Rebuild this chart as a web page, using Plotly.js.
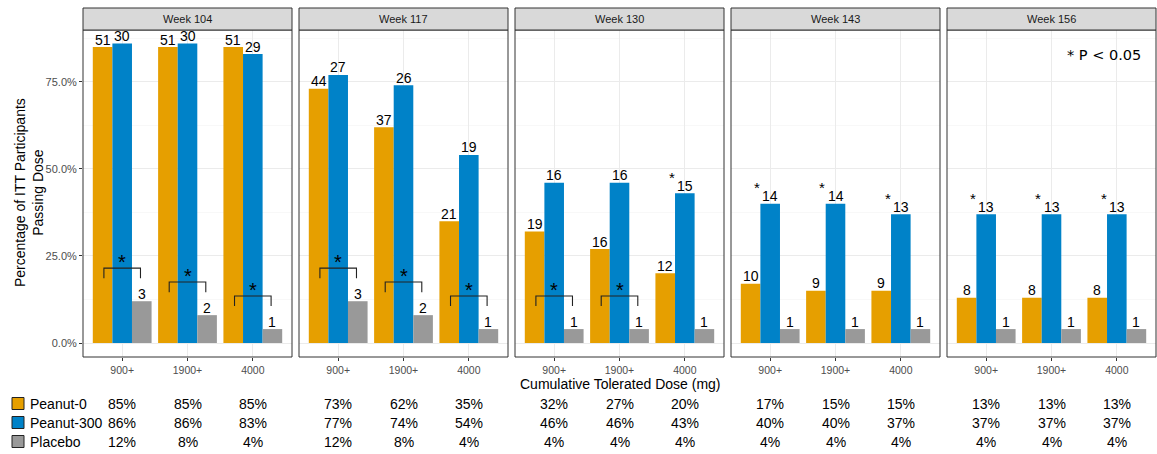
<!DOCTYPE html>
<html>
<head>
<meta charset="utf-8">
<script src="https://cdn.plot.ly/plotly-3.0.1.min.js"></script>
<style>
  html, body { margin: 0; padding: 0; background: #fff; }
  #chart { width: 1157px; height: 454px; }
</style>
</head>
<body>
<div id="chart"></div>
<script>
// ---- data ----
const weeks = ['Week 104', 'Week 117', 'Week 130', 'Week 143', 'Week 156'];
const doses = ['900+', '1900+', '4000'];
const groupNames = ['Peanut-0', 'Peanut-300', 'Placebo'];
const yTickVals = [0, 25, 50, 75];
const yTickText = ['0.0%', '25.0%', '50.0%', '75.0%'];

// percentage passing each cumulative dose, one row per week
const peanut0Pct   = [[85, 85, 85], [73, 62, 35], [32, 27, 20], [17, 15, 15], [13, 13, 13]];
const peanut300Pct = [[86, 86, 83], [77, 74, 54], [46, 46, 43], [40, 40, 37], [37, 37, 37]];
const placeboPct   = [[12, 8, 4],   [12, 8, 4],   [4, 4, 4],    [4, 4, 4],    [4, 4, 4]];

// number of participants passing
const peanut0N   = [[51, 51, 51], [44, 37, 21], [19, 16, 12], [10, 9, 9],  [8, 8, 8]];
const peanut300N = [[30, 30, 29], [27, 26, 19], [16, 16, 15], [14, 14, 13], [13, 13, 13]];
const placeboN   = [[3, 2, 1],    [3, 2, 1],    [1, 1, 1],    [1, 1, 1],    [1, 1, 1]];

// significance flags: bracket = active arms vs placebo, star = Peanut-300 vs Peanut-0
const sigVsPlacebo  = [[1, 1, 1], [1, 1, 1], [1, 1, 0], [0, 0, 0], [0, 0, 0]];
const sigPeanut300  = [[0, 0, 0], [0, 0, 0], [0, 0, 1], [1, 1, 1], [1, 1, 1]];

// ---- styling / geometry ----
const groupColors = ['#E69F00', '#0082C8', '#999999'];
const pctByGroup = [peanut0Pct, peanut300Pct, placeboPct];
const countByGroup = [peanut0N, peanut300N, placeboN];

const W = 1157, H = 454;
const M = { l: 83, r: 1, t: 30, b: 97 };
const plotW = W - M.l - M.r, plotH = H - M.t - M.b;
const px = v => (v - M.l) / plotW;        // pixel x -> paper
const py = v => (H - M.b - v) / plotH;    // pixel y -> paper
const PANEL_STEP = 216, PANEL_W = 209;
const axId = i => (i === 0 ? '' : String(i + 1));
const FONT = 'Liberation Sans, Arial, sans-serif';
const offsets = [-0.45, -0.15, 0.15];
const centers = [-0.3, 0, 0.3];

const traces = [];
const layout = {
  width: W, height: H,
  margin: { l: M.l, r: M.r, t: M.t, b: M.b, pad: 0 },
  paper_bgcolor: '#fff', plot_bgcolor: '#fff',
  barmode: 'overlay',
  showlegend: false,
  font: { family: FONT, color: '#000' },
  yaxis: {
    range: [-4.02, 89.9],
    tickmode: 'array', tickvals: yTickVals, ticktext: yTickText,
    showgrid: true, gridcolor: '#ebebeb', gridwidth: 1,
    minor: { tickvals: [12.5, 37.5, 62.5, 87.5], showgrid: true, gridcolor: '#f4f4f4', gridwidth: 0.6, ticks: '' },
    zeroline: false, showline: false,
    ticks: 'outside', ticklen: 3, tickcolor: '#333',
    tickfont: { family: FONT, size: 11, color: '#4d4d4d' },
    anchor: 'x', fixedrange: true
  },
  shapes: [],
  annotations: []
};

weeks.forEach((wk, i) => {
  const id = axId(i);
  const x0 = i * PANEL_STEP;
  const xr = 'x' + id;
  const xd = 'x' + id + ' domain';

  layout['xaxis' + id] = {
    domain: [x0 / plotW, Math.min(1, (x0 + PANEL_W) / plotW)],
    range: [-0.6, 2.6],
    tickmode: 'array', tickvals: [0, 1, 2], ticktext: doses,
    showgrid: true, gridcolor: '#ebebeb', gridwidth: 1,
    zeroline: false, showline: false,
    ticks: 'outside', ticklen: 3, tickcolor: '#333',
    tickfont: { family: FONT, size: 10.5, color: '#4d4d4d' },
    anchor: 'y', fixedrange: true
  };

  groupNames.forEach((g, k) => {
    traces.push({
      type: 'bar',
      name: g,
      x: [0, 1, 2],
      y: pctByGroup[k][i],
      width: 0.3,
      offset: offsets[k],
      xaxis: xr,
      yaxis: 'y',
      marker: { color: groupColors[k], line: { width: 0 } },
      showlegend: false,
      hoverinfo: 'skip'
    });
    // count labels sitting on top of each bar
    doses.forEach((d, j) => {
      layout.annotations.push({ xref: xr, yref: 'y', x: j + centers[k], y: pctByGroup[k][i][j],
        text: String(countByGroup[k][i][j]), showarrow: false, xanchor: 'center', yanchor: 'bottom', yshift: -2.5,
        font: { family: FONT, size: 14, color: '#000' } });
    });
  });

  // panel frame
  layout.shapes.push({ type: 'rect', xref: xd, yref: 'y domain', x0: 0, x1: 1, y0: 0, y1: 1,
    line: { color: '#333', width: 1 }, fillcolor: 'rgba(0,0,0,0)', layer: 'above' });
  // strip
  layout.shapes.push({ type: 'rect', xref: xd, yref: 'paper', x0: 0, x1: 1, y0: 1, y1: py(8),
    line: { color: '#333', width: 1 }, fillcolor: '#d9d9d9', layer: 'above' });
  layout.annotations.push({ xref: xd, yref: 'paper', x: 0.5, y: py(19), text: wk, showarrow: false,
    xanchor: 'center', yanchor: 'middle', font: { family: FONT, size: 11, color: '#1a1a1a' } });

  doses.forEach((d, j) => {
    // bracket: active arms vs placebo
    if (sigVsPlacebo[i][j]) {
      const top = placeboPct[i][j] + 9.5;
      const leg = top - 2.9;
      layout.shapes.push({ type: 'path', xref: xr, yref: 'y',
        path: `M ${j - 0.28},${leg} L ${j - 0.28},${top} L ${j + 0.28},${top} L ${j + 0.28},${leg}`,
        line: { color: '#222', width: 1.1 } });
      layout.annotations.push({ xref: xr, yref: 'y', x: j, y: top, yshift: 6.5, text: '*', showarrow: false,
        xanchor: 'center', yanchor: 'middle', font: { family: FONT, size: 20, color: '#000' } });
    }
    // star: Peanut-300 vs Peanut-0
    if (sigPeanut300[i][j]) {
      layout.annotations.push({ xref: xr, yref: 'y', x: j - 0.2, y: peanut300Pct[i][j], yshift: 16, text: '*', showarrow: false,
        xanchor: 'center', yanchor: 'middle', font: { family: FONT, size: 15, color: '#000' } });
    }
    // table of percentages under each panel
    pctByGroup.forEach((arr, k) => {
      layout.annotations.push({ xref: xr, yref: 'paper', x: j, y: py(403.5 + 19 * k), text: arr[i][j] + '%',
        showarrow: false, xanchor: 'center', yanchor: 'middle', font: { family: FONT, size: 14, color: '#000' } });
    });
  });
});

// legend keys for the table rows
groupNames.forEach((g, k) => {
  const yc = 403.5 + 19 * k;
  layout.shapes.push({ type: 'rect', xref: 'paper', yref: 'paper', x0: px(12), x1: px(24), y0: py(yc - 6), y1: py(yc + 6),
    fillcolor: groupColors[k], line: { color: '#222', width: 1 } });
  layout.annotations.push({ xref: 'paper', yref: 'paper', x: px(28), y: py(yc), text: g, showarrow: false,
    xanchor: 'left', yanchor: 'middle', font: { family: FONT, size: 14, color: '#000' } });
});

// significance key
layout.annotations.push({ xref: 'x5 domain', yref: 'paper', x: 0.94, y: py(55), text: '* P < 0.05', showarrow: false,
  xanchor: 'right', yanchor: 'middle', font: { family: 'DejaVu Sans, sans-serif', size: 14.5, color: '#000' } });

// axis titles
layout.annotations.push({ xref: 'paper', yref: 'paper', x: px(620), y: py(384), text: 'Cumulative Tolerated Dose (mg)',
  showarrow: false, xanchor: 'center', yanchor: 'middle', font: { family: FONT, size: 14, color: '#000' } });
layout.annotations.push({ xref: 'paper', yref: 'paper', x: px(29), y: py(193), text: 'Percentage of ITT Participants<br>Passing Dose',
  showarrow: false, textangle: -90, xanchor: 'center', yanchor: 'middle', font: { family: FONT, size: 14, color: '#000' } });

Plotly.newPlot('chart', traces, layout, { displayModeBar: false, staticPlot: true });
</script>
</body>
</html>
